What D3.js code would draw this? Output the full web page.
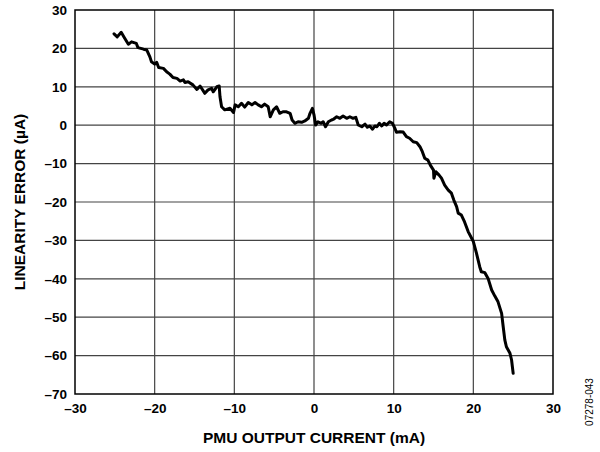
<!DOCTYPE html>
<html>
<head>
<meta charset="utf-8">
<script src="https://cdn.jsdelivr.net/npm/d3@7"></script>
<style>
  body { margin: 0; background: #fff; }
  svg { display: block; font-family: "Liberation Sans", Arial, sans-serif; }
</style>
</head>
<body>
<div id="chart"></div>
<script>
// PMU output current (mA)
const current = [
  -25.1, -24.7, -24.2, -23.8, -23.3, -22.9, -22.3, -22.1, -21.4, -21.0,
  -20.6, -20.4, -20.0, -19.75, -19.5, -18.9, -18.5, -18.1, -17.7, -17.2,
  -16.8, -16.4, -16.2, -15.8, -15.2, -14.7, -14.3, -13.7, -13.3, -12.85,
  -12.65, -12.2, -11.9, -11.8, -11.6, -11.2, -10.55, -10.1, -9.9, -9.5,
  -9.1, -8.7, -8.25, -7.8, -7.4, -7.0, -6.6, -6.2, -5.75, -5.5,
  -5.1, -4.7, -4.3, -3.9, -3.45, -3.0, -2.75, -2.4, -2.0, -1.55,
  -1.15, -0.7, -0.5, -0.2, 0.0, 0.2, 0.5, 0.9, 1.15, 1.45,
  1.8, 2.2, 2.4, 2.85, 3.25, 3.65, 4.1, 4.5, 4.9, 5.25,
  5.55, 6.0, 6.4, 6.7, 7.0, 7.35, 7.65, 7.9, 8.2, 8.5,
  8.8, 9.1, 9.5, 9.85, 10.15, 10.35, 10.8, 11.2, 11.6, 12.0,
  12.45, 12.9, 13.3, 13.6, 13.9, 14.3, 14.6, 15.0, 15.05, 15.3,
  15.7, 16.0, 16.4, 16.85, 17.25, 17.55, 17.9, 18.1, 18.5, 18.9,
  19.35, 20.0, 20.4, 20.8, 21.0, 21.45, 21.85, 22.3, 22.7, 23.1,
  23.55, 23.75, 23.95, 24.15, 24.6, 24.8, 24.9, 25.0
];
// linearity error (µA)
const linError = [
  23.8, 23.0, 24.2, 22.8, 21.1, 21.7, 21.3, 20.2, 19.8, 19.6,
  17.8, 16.5, 15.9, 16.4, 15.0, 14.8, 13.9, 13.3, 12.4, 12.2,
  11.5, 11.8, 11.1, 11.3, 10.5, 9.3, 10.2, 8.3, 9.2, 9.6,
  8.7, 10.0, 10.2, 7.4, 4.8, 4.0, 4.4, 3.3, 5.3, 4.8,
  5.7, 4.7, 5.9, 5.3, 5.9, 5.3, 4.8, 5.5, 4.8, 2.2,
  4.0, 4.8, 3.1, 3.5, 3.5, 3.1, 1.35, 0.5, 0.9, 0.75,
  1.1, 1.8, 3.1, 4.4, 2.7, 0.05, 0.9, 0.5, 0.9, -0.4,
  0.9, 1.35, 1.5, 2.2, 1.8, 2.4, 1.8, 2.2, 1.8, 2.05,
  0.05, -0.4, 0.3, -0.55, -0.2, -1.05, -0.2, -0.4, 0.5, -0.2,
  0.5, 0.05, 0.9, 0.5, -0.8, -1.85, -1.7, -1.8, -3.0, -3.4,
  -4.3, -4.55, -5.6, -6.9, -8.6, -9.1, -10.4, -11.7, -13.8, -12.1,
  -13.0, -13.8, -15.6, -16.9, -17.7, -19.5, -21.2, -22.9, -23.4, -25.2,
  -27.7, -30.3, -33.4, -36.85, -38.15, -38.4, -39.9, -42.9, -44.5, -46.0,
  -49.0, -52.5, -55.9, -57.7, -59.4, -61.15, -62.9, -64.6
];
const xTicks = [-30, -20, -10, 0, 10, 20, 30];
const yTicks = [30, 20, 10, 0, -10, -20, -30, -40, -50, -60, -70];

const W = 600, H = 452;
const margin = { top: 10, right: 47, bottom: 58, left: 75 };
const width = W - margin.left - margin.right;
const height = H - margin.top - margin.bottom;

const svg = d3.select("#chart").append("svg")
  .attr("width", W)
  .attr("height", H);

const g = svg.append("g")
  .attr("transform", `translate(${margin.left},${margin.top})`);

const x = d3.scaleLinear().domain([-30, 30]).range([0, width]);
const y = d3.scaleLinear().domain([-70, 30]).range([height, 0]);

const fmt = (d) => (d < 0 ? "\u2013" + Math.abs(d) : String(d));

// grid
g.append("g").selectAll("line").data(xTicks.slice(1, -1)).join("line")
  .attr("x1", (d) => x(d)).attr("x2", (d) => x(d))
  .attr("y1", 0).attr("y2", height)
  .attr("stroke", "#444").attr("stroke-width", 1.2);
g.append("g").selectAll("line").data(yTicks.slice(1, -1)).join("line")
  .attr("y1", (d) => y(d)).attr("y2", (d) => y(d))
  .attr("x1", 0).attr("x2", width)
  .attr("stroke", "#444").attr("stroke-width", 1.2);

// frame
g.append("rect")
  .attr("width", width).attr("height", height)
  .attr("fill", "none").attr("stroke", "#000").attr("stroke-width", 1.5);

// axes
const xAxis = d3.axisBottom(x).tickValues(xTicks).tickFormat(fmt).tickSize(0).tickPadding(9);
const yAxis = d3.axisLeft(y).tickValues(yTicks).tickFormat(fmt).tickSize(0).tickPadding(8);

g.append("g").attr("transform", `translate(0,${height})`).call(xAxis)
  .call((s) => s.select(".domain").remove())
  .selectAll("text").attr("font-size", 13.5).attr("font-weight", "bold")
  .attr("font-family", "Liberation Sans, Arial, sans-serif").attr("fill", "#000");

g.append("g").call(yAxis)
  .call((s) => s.select(".domain").remove())
  .selectAll("text").attr("font-size", 13.5).attr("font-weight", "bold")
  .attr("font-family", "Liberation Sans, Arial, sans-serif").attr("fill", "#000");

// data line
const pts = current.map((c, i) => [c, linError[i]]);
g.append("path")
  .datum(pts)
  .attr("fill", "none")
  .attr("stroke", "#000")
  .attr("stroke-width", 3)
  .attr("stroke-linejoin", "round")
  .attr("stroke-linecap", "round")
  .attr("d", d3.line().x((d) => x(d[0])).y((d) => y(d[1])));

// titles
svg.append("text")
  .attr("x", margin.left + width / 2).attr("y", 443)
  .attr("text-anchor", "middle")
  .attr("font-size", 15.5).attr("font-weight", "bold")
  .text("PMU OUTPUT CURRENT (mA)");

svg.append("text")
  .attr("transform", `translate(25,${margin.top + height / 2}) rotate(-90)`)
  .attr("text-anchor", "middle")
  .attr("font-size", 15.5).attr("font-weight", "bold")
  .text("LINEARITY ERROR (µA)");

svg.append("text")
  .attr("transform", "translate(593,402) rotate(-90)")
  .attr("text-anchor", "middle")
  .attr("font-size", 10)
  .text("07278-043");
</script>
</body>
</html>
